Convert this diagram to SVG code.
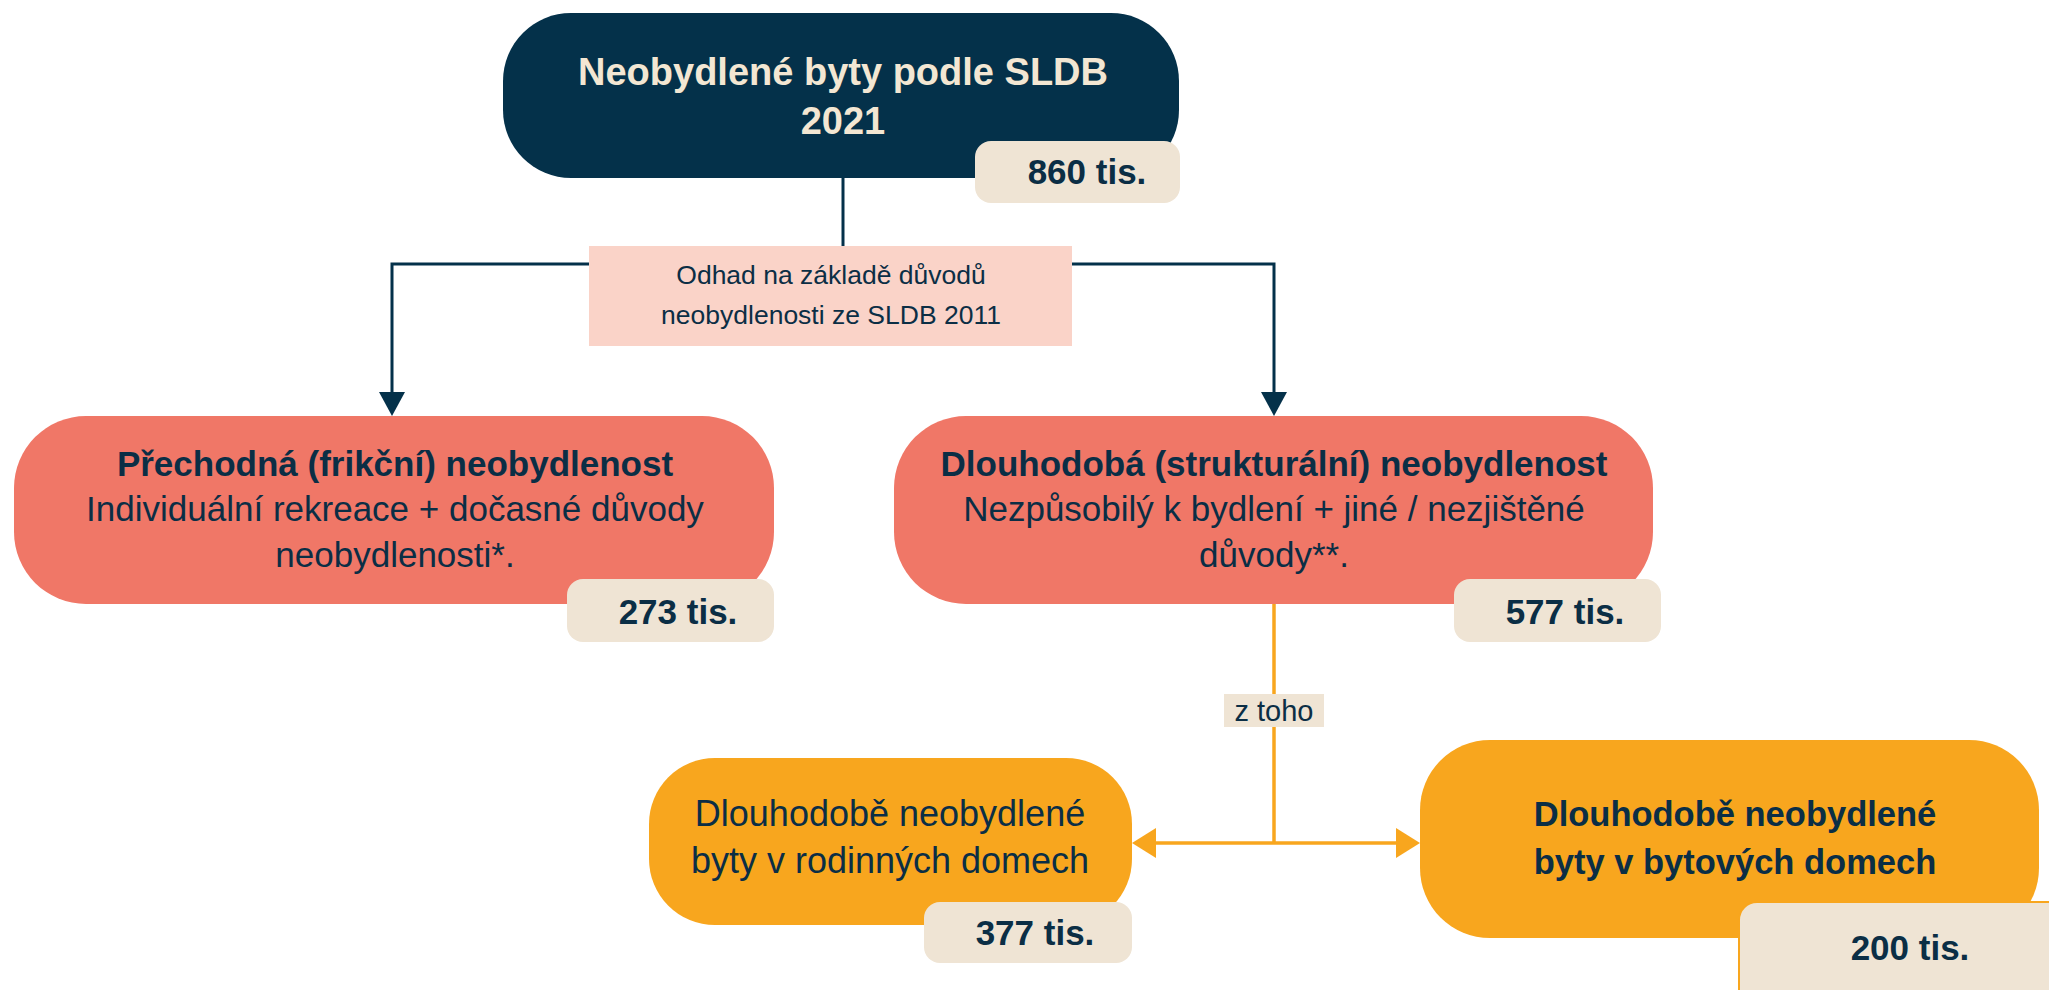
<svg xmlns="http://www.w3.org/2000/svg" width="2049" height="990" viewBox="0 0 2049 990">
<style>
  text { font-family: "Liberation Sans", Arial, sans-serif; fill: #0B2E45; text-anchor: middle; }
  .b { font-weight: bold; }
  .title { fill: #F3E7D3; font-size: 38px; font-weight: bold; }
  .navy { fill: #04314A; }
  .red { fill: #F07767; }
  .orange { fill: #F8A61E; }
  .badge { fill: #EFE4D4; }
  .num { font-size: 35px; font-weight: bold; }
  .lnNavy { stroke: #04314A; stroke-width: 3; fill: none; }
  .lnOrange { stroke: #F8A61E; stroke-width: 3.5; fill: none; }
</style>
<defs>
  <marker id="arrNavy" viewBox="0 0 24 26" markerWidth="24" markerHeight="26" refX="0" refY="13" orient="auto" markerUnits="userSpaceOnUse">
    <path d="M0 0 L24 13 L0 26 z" fill="#04314A"/>
  </marker>
  <marker id="arrOrange" viewBox="0 0 24 30" markerWidth="24" markerHeight="30" refX="0" refY="15" orient="auto-start-reverse" markerUnits="userSpaceOnUse">
    <path d="M0 0 L24 15 L0 30 z" fill="#F8A61E"/>
  </marker>
</defs>
<rect width="2049" height="990" fill="#FFFFFF"/>

<g id="connectors">
  <path class="lnNavy" d="M843 178 V264"/>
  <path class="lnNavy" d="M600 264 H392 V392" marker-end="url(#arrNavy)"/>
  <path class="lnNavy" d="M1060 264 H1274 V392" marker-end="url(#arrNavy)"/>
  <path class="lnOrange" d="M1274 604 V843"/>
  <path class="lnOrange" d="M1156 843 H1396" marker-start="url(#arrOrange)" marker-end="url(#arrOrange)"/>
</g>

<g id="label-odhad">
  <rect x="589" y="246" width="483" height="100" fill="#FAD3C8"/>
  <text x="831" y="284" font-size="26.5">Odhad na základě důvodů</text>
  <text x="831" y="324" font-size="26.5">neobydlenosti ze SLDB 2011</text>
</g>

<g id="label-ztoho">
  <rect x="1224" y="694" width="100" height="33" fill="#EFE4D4"/>
  <text x="1274" y="721" font-size="29">z toho</text>
</g>

<g id="node-top">
  <rect class="navy" x="503" y="13" width="676" height="165" rx="68"/>
  <text class="title" x="843" y="85">Neobydlené byty podle SLDB</text>
  <text class="title" x="843" y="134">2021</text>
  <rect class="badge" x="975" y="141" width="205" height="62" rx="16"/>
  <text class="num" x="1087" y="184">860 tis.</text>
</g>

<g id="node-prechodna">
  <rect class="red" x="14" y="416" width="760" height="188" rx="72"/>
  <text class="b" x="395" y="476" font-size="35">Přechodná (frikční) neobydlenost</text>
  <text x="395" y="521" font-size="35">Individuální rekreace + dočasné důvody</text>
  <text x="395" y="567" font-size="35">neobydlenosti*.</text>
  <rect class="badge" x="567" y="579" width="207" height="63" rx="16"/>
  <text class="num" x="678" y="624">273 tis.</text>
</g>

<g id="node-dlouhodoba">
  <rect class="red" x="894" y="416" width="759" height="188" rx="72"/>
  <text class="b" x="1274" y="476" font-size="35">Dlouhodobá (strukturální) neobydlenost</text>
  <text x="1274" y="521" font-size="35">Nezpůsobilý k bydlení + jiné / nezjištěné</text>
  <text x="1274" y="567" font-size="35">důvody**.</text>
  <rect class="badge" x="1454" y="579" width="207" height="63" rx="16"/>
  <text class="num" x="1565" y="624">577 tis.</text>
</g>

<g id="node-rodinne">
  <rect class="orange" x="649" y="758" width="483" height="167" rx="66"/>
  <text x="890" y="826" font-size="36">Dlouhodobě neobydlené</text>
  <text x="890" y="873" font-size="36">byty v rodinných domech</text>
  <rect class="badge" x="924" y="902" width="208" height="61" rx="16"/>
  <text class="num" x="1035" y="945">377 tis.</text>
</g>

<g id="node-bytove">
  <rect class="orange" x="1420" y="740" width="619" height="198" rx="70"/>
  <text class="b" x="1735" y="826" font-size="34.5">Dlouhodobě neobydlené</text>
  <text class="b" x="1735" y="874" font-size="34.5">byty v bytových domech</text>
  <rect class="badge" x="1739" y="902" width="340" height="110" rx="18" stroke="#F8A61E" stroke-width="2"/>
  <text class="num" x="1910" y="960" font-size="47">200 tis.</text>
</g>
</svg>
